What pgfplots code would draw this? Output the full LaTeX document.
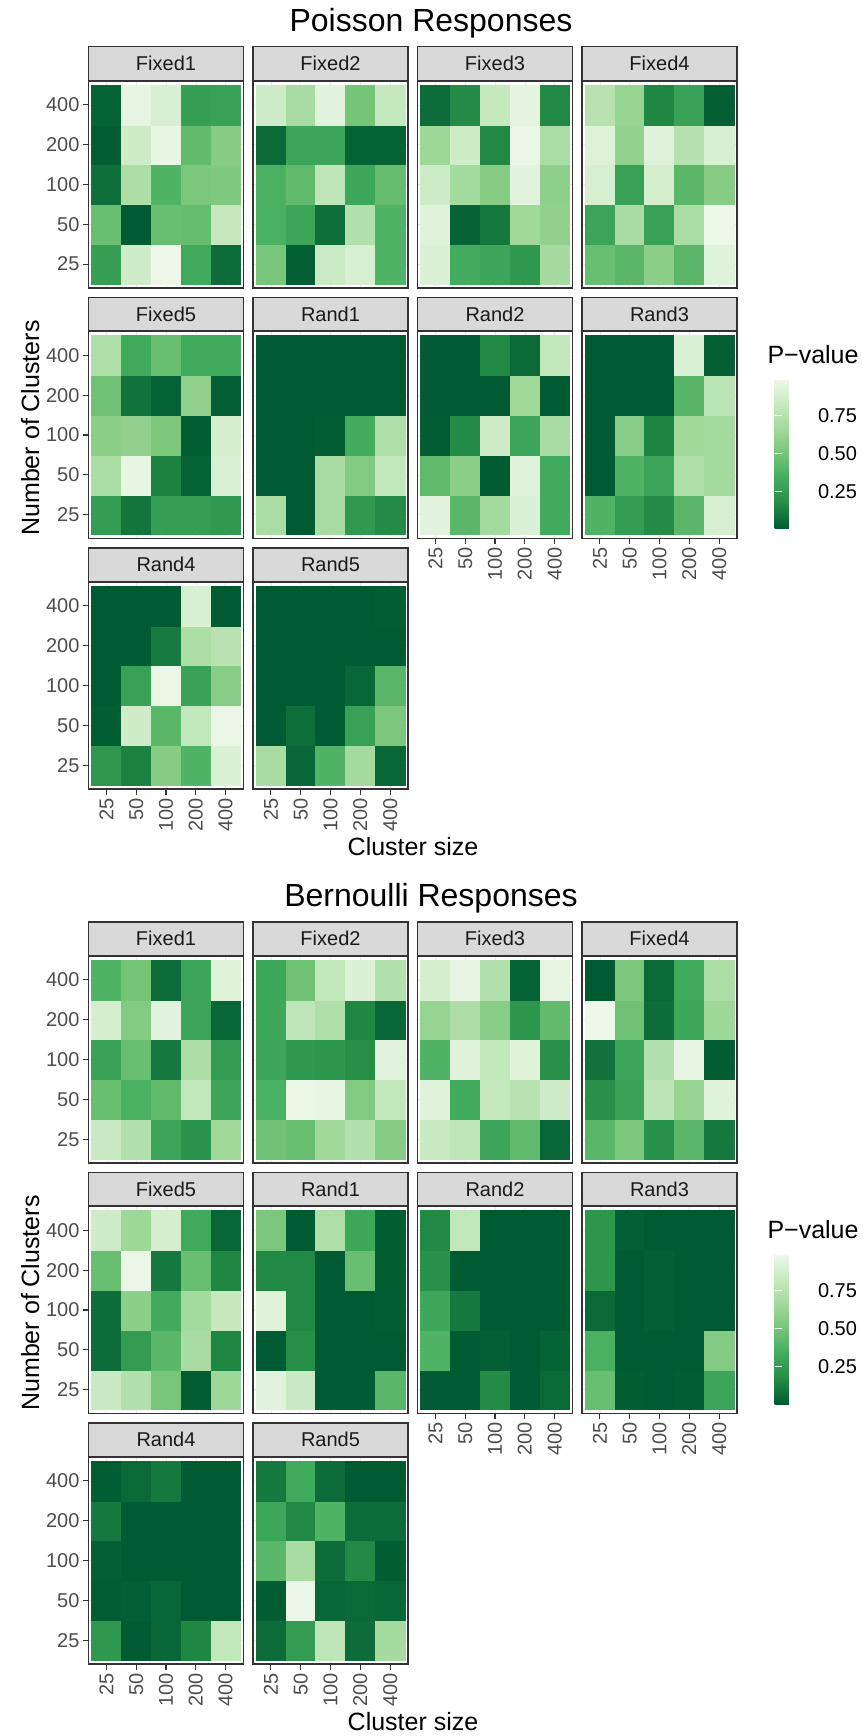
\documentclass[border=0pt]{standalone}
\usepackage{pgfplots}
\pgfplotsset{compat=1.18}
\usepackage{pgfplotstable}
\usepackage{fontspec}
\setmainfont{Liberation Sans}
\usetikzlibrary{calc}
\definecolor{gray10}{HTML}{1A1A1A}
\definecolor{gray20}{HTML}{333333}
\definecolor{gray30}{HTML}{4D4D4D}
\definecolor{gray85}{HTML}{D9D9D9}
\definecolor{gray92}{HTML}{EBEBEB}
\pgfplotsset{colormap={ggreens}{rgb255=(0,90,50) rgb255=(35,139,69) rgb255=(65,171,93) rgb255=(116,196,118) rgb255=(161,217,155) rgb255=(199,233,192) rgb255=(237,248,233)}}

% ---------------- Poisson ----------------
\pgfplotstableread[row sep=\\]{x y c\\
0 0 0.27\\ 1 0 0.86\\ 2 0 0.99\\ 3 0 0.32\\ 4 0 0.06\\
0 1 0.46\\ 1 1 0.00\\ 2 1 0.46\\ 3 1 0.45\\ 4 1 0.82\\
0 2 0.07\\ 1 2 0.71\\ 2 2 0.38\\ 3 2 0.52\\ 4 2 0.54\\
0 3 0.01\\ 1 3 0.86\\ 2 3 0.97\\ 3 3 0.44\\ 4 3 0.56\\
0 4 0.03\\ 1 4 0.96\\ 2 4 0.90\\ 3 4 0.27\\ 4 4 0.28\\
}\PFa
\pgfplotstableread[row sep=\\]{x y c\\
0 0 0.51\\ 1 0 0.02\\ 2 0 0.84\\ 3 0 0.90\\ 4 0 0.38\\
0 1 0.36\\ 1 1 0.30\\ 2 1 0.07\\ 3 1 0.74\\ 4 1 0.38\\
0 2 0.36\\ 1 2 0.43\\ 2 2 0.79\\ 3 2 0.31\\ 4 2 0.45\\
0 3 0.05\\ 1 3 0.30\\ 2 3 0.30\\ 3 3 0.03\\ 4 3 0.03\\
0 4 0.85\\ 1 4 0.69\\ 2 4 0.94\\ 3 4 0.50\\ 4 4 0.82\\
}\PFb
\pgfplotstableread[row sep=\\]{x y c\\
0 0 0.91\\ 1 0 0.34\\ 2 0 0.30\\ 3 0 0.23\\ 4 0 0.68\\
0 1 0.93\\ 1 1 0.03\\ 2 1 0.10\\ 3 1 0.66\\ 4 1 0.60\\
0 2 0.85\\ 1 2 0.67\\ 2 2 0.56\\ 3 2 0.94\\ 4 2 0.59\\
0 3 0.65\\ 1 3 0.86\\ 2 3 0.16\\ 3 3 0.98\\ 4 3 0.70\\
0 4 0.06\\ 1 4 0.17\\ 2 4 0.82\\ 3 4 0.95\\ 4 4 0.16\\
}\PFc
\pgfplotstableread[row sep=\\]{x y c\\
0 0 0.46\\ 1 0 0.41\\ 2 0 0.58\\ 3 0 0.41\\ 4 0 0.93\\
0 1 0.30\\ 1 1 0.69\\ 2 1 0.28\\ 3 1 0.70\\ 4 1 0.99\\
0 2 0.89\\ 1 2 0.28\\ 2 2 0.88\\ 3 2 0.41\\ 4 2 0.56\\
0 3 0.92\\ 1 3 0.61\\ 2 3 0.93\\ 3 3 0.75\\ 4 3 0.90\\
0 4 0.76\\ 1 4 0.62\\ 2 4 0.15\\ 3 4 0.28\\ 4 4 0.02\\
}\PFd
\pgfplotstableread[row sep=\\]{x y c\\
0 0 0.26\\ 1 0 0.09\\ 2 0 0.27\\ 3 0 0.27\\ 4 0 0.24\\
0 1 0.70\\ 1 1 0.97\\ 2 1 0.13\\ 3 1 0.03\\ 4 1 0.91\\
0 2 0.58\\ 1 2 0.60\\ 2 2 0.52\\ 3 2 0.01\\ 4 2 0.88\\
0 3 0.48\\ 1 3 0.08\\ 2 3 0.03\\ 3 3 0.60\\ 4 3 0.02\\
0 4 0.72\\ 1 4 0.32\\ 2 4 0.46\\ 3 4 0.33\\ 4 4 0.33\\
}\PFe
\pgfplotstableread[row sep=\\]{x y c\\
0 0 0.70\\ 1 0 0.00\\ 2 0 0.69\\ 3 0 0.24\\ 4 0 0.17\\
0 1 0.00\\ 1 1 0.00\\ 2 1 0.69\\ 3 1 0.55\\ 4 1 0.80\\
0 2 0.00\\ 1 2 0.00\\ 2 2 0.01\\ 3 2 0.34\\ 4 2 0.72\\
0 3 0.00\\ 1 3 0.00\\ 2 3 0.00\\ 3 3 0.00\\ 4 3 0.00\\
0 4 0.00\\ 1 4 0.00\\ 2 4 0.00\\ 3 4 0.00\\ 4 4 0.00\\
}\PRa
\pgfplotstableread[row sep=\\]{x y c\\
0 0 0.94\\ 1 0 0.41\\ 2 0 0.67\\ 3 0 0.91\\ 4 0 0.33\\
0 1 0.43\\ 1 1 0.58\\ 2 1 0.00\\ 3 1 0.93\\ 4 1 0.33\\
0 2 0.01\\ 1 2 0.17\\ 2 2 0.85\\ 3 2 0.30\\ 4 2 0.69\\
0 3 0.00\\ 1 3 0.00\\ 2 3 0.00\\ 3 3 0.66\\ 4 3 0.00\\
0 4 0.00\\ 1 4 0.00\\ 2 4 0.16\\ 3 4 0.05\\ 4 4 0.80\\
}\PRb
\pgfplotstableread[row sep=\\]{x y c\\
0 0 0.38\\ 1 0 0.26\\ 2 0 0.17\\ 3 0 0.41\\ 4 0 0.89\\
0 1 0.00\\ 1 1 0.38\\ 2 1 0.30\\ 3 1 0.72\\ 4 1 0.67\\
0 2 0.00\\ 1 2 0.57\\ 2 2 0.14\\ 3 2 0.66\\ 4 2 0.67\\
0 3 0.00\\ 1 3 0.00\\ 2 3 0.00\\ 3 3 0.40\\ 4 3 0.77\\
0 4 0.00\\ 1 4 0.00\\ 2 4 0.00\\ 3 4 0.91\\ 4 4 0.02\\
}\PRc
\pgfplotstableread[row sep=\\]{x y c\\
0 0 0.23\\ 1 0 0.13\\ 2 0 0.56\\ 3 0 0.38\\ 4 0 0.91\\
0 1 0.01\\ 1 1 0.86\\ 2 1 0.41\\ 3 1 0.80\\ 4 1 0.98\\
0 2 0.00\\ 1 2 0.28\\ 2 2 0.98\\ 3 2 0.28\\ 4 2 0.57\\
0 3 0.00\\ 1 3 0.00\\ 2 3 0.11\\ 3 3 0.71\\ 4 3 0.76\\
0 4 0.00\\ 1 4 0.00\\ 2 4 0.00\\ 3 4 0.90\\ 4 4 0.00\\
}\PRd
\pgfplotstableread[row sep=\\]{x y c\\
0 0 0.69\\ 1 0 0.04\\ 2 0 0.38\\ 3 0 0.68\\ 4 0 0.04\\
0 1 0.00\\ 1 1 0.07\\ 2 1 0.00\\ 3 1 0.28\\ 4 1 0.52\\
0 2 0.00\\ 1 2 0.00\\ 2 2 0.00\\ 3 2 0.04\\ 4 2 0.41\\
0 3 0.00\\ 1 3 0.00\\ 2 3 0.00\\ 3 3 0.00\\ 4 3 0.00\\
0 4 0.00\\ 1 4 0.00\\ 2 4 0.00\\ 3 4 0.00\\ 4 4 0.01\\
}\PRe

% ---------------- Bernoulli ----------------
\pgfplotstableread[row sep=\\]{x y c\\
0 0 0.83\\ 1 0 0.74\\ 2 0 0.30\\ 3 0 0.21\\ 4 0 0.66\\
0 1 0.46\\ 1 1 0.36\\ 2 1 0.43\\ 3 1 0.80\\ 4 1 0.30\\
0 2 0.28\\ 1 2 0.46\\ 2 2 0.10\\ 3 2 0.71\\ 4 2 0.25\\
0 3 0.88\\ 1 3 0.55\\ 2 3 0.94\\ 3 3 0.30\\ 4 3 0.04\\
0 4 0.38\\ 1 4 0.50\\ 2 4 0.06\\ 3 4 0.30\\ 4 4 0.92\\
}\BFa
\pgfplotstableread[row sep=\\]{x y c\\
0 0 0.48\\ 1 0 0.46\\ 2 0 0.66\\ 3 0 0.74\\ 4 0 0.56\\
0 1 0.36\\ 1 1 0.98\\ 2 1 0.97\\ 3 1 0.55\\ 4 1 0.80\\
0 2 0.30\\ 1 2 0.23\\ 2 2 0.22\\ 3 2 0.18\\ 4 2 0.94\\
0 3 0.31\\ 1 3 0.79\\ 2 3 0.72\\ 3 3 0.15\\ 4 3 0.04\\
0 4 0.31\\ 1 4 0.48\\ 2 4 0.80\\ 3 4 0.91\\ 4 4 0.74\\
}\BFb
\pgfplotstableread[row sep=\\]{x y c\\
0 0 0.83\\ 1 0 0.79\\ 2 0 0.30\\ 3 0 0.43\\ 4 0 0.04\\
0 1 0.93\\ 1 1 0.33\\ 2 1 0.82\\ 3 1 0.76\\ 4 1 0.86\\
0 2 0.38\\ 1 2 0.93\\ 2 2 0.80\\ 3 2 0.92\\ 4 2 0.20\\
0 3 0.62\\ 1 3 0.71\\ 2 3 0.57\\ 3 3 0.22\\ 4 3 0.44\\
0 4 0.88\\ 1 4 0.96\\ 2 4 0.74\\ 3 4 0.03\\ 4 4 0.96\\
}\BFc
\pgfplotstableread[row sep=\\]{x y c\\
0 0 0.41\\ 1 0 0.52\\ 2 0 0.20\\ 3 0 0.41\\ 4 0 0.10\\
0 1 0.20\\ 1 1 0.28\\ 2 1 0.77\\ 3 1 0.62\\ 4 1 0.93\\
0 2 0.08\\ 1 2 0.30\\ 2 2 0.74\\ 3 2 0.97\\ 4 2 0.01\\
0 3 0.99\\ 1 3 0.48\\ 2 3 0.06\\ 3 3 0.31\\ 4 3 0.65\\
0 4 0.00\\ 1 4 0.52\\ 2 4 0.05\\ 3 4 0.32\\ 4 4 0.71\\
}\BFd
\pgfplotstableread[row sep=\\]{x y c\\
0 0 0.83\\ 1 0 0.74\\ 2 0 0.51\\ 3 0 0.01\\ 4 0 0.65\\
0 1 0.06\\ 1 1 0.25\\ 2 1 0.41\\ 3 1 0.69\\ 4 1 0.15\\
0 2 0.06\\ 1 2 0.58\\ 2 2 0.33\\ 3 2 0.67\\ 4 2 0.82\\
0 3 0.46\\ 1 3 0.98\\ 2 3 0.10\\ 3 3 0.46\\ 4 3 0.15\\
0 4 0.86\\ 1 4 0.65\\ 2 4 0.88\\ 3 4 0.32\\ 4 4 0.04\\
}\BFe
\pgfplotstableread[row sep=\\]{x y c\\
0 0 0.94\\ 1 0 0.83\\ 2 0 0.00\\ 3 0 0.00\\ 4 0 0.41\\
0 1 0.00\\ 1 1 0.18\\ 2 1 0.00\\ 3 1 0.00\\ 4 1 0.00\\
0 2 0.93\\ 1 2 0.16\\ 2 2 0.00\\ 3 2 0.00\\ 4 2 0.01\\
0 3 0.16\\ 1 3 0.16\\ 2 3 0.00\\ 3 3 0.46\\ 4 3 0.01\\
0 4 0.52\\ 1 4 0.00\\ 2 4 0.72\\ 3 4 0.31\\ 4 4 0.01\\
}\BRa
\pgfplotstableread[row sep=\\]{x y c\\
0 0 0.00\\ 1 0 0.00\\ 2 0 0.17\\ 3 0 0.00\\ 4 0 0.05\\
0 1 0.38\\ 1 1 0.00\\ 2 1 0.02\\ 3 1 0.00\\ 4 1 0.03\\
0 2 0.31\\ 1 2 0.10\\ 2 2 0.00\\ 3 2 0.00\\ 4 2 0.00\\
0 3 0.20\\ 1 3 0.00\\ 2 3 0.00\\ 3 3 0.00\\ 4 3 0.00\\
0 4 0.16\\ 1 4 0.80\\ 2 4 0.00\\ 3 4 0.00\\ 4 4 0.00\\
}\BRb
\pgfplotstableread[row sep=\\]{x y c\\
0 0 0.46\\ 1 0 0.01\\ 2 0 0.00\\ 3 0 0.01\\ 4 0 0.30\\
0 1 0.36\\ 1 1 0.00\\ 2 1 0.00\\ 3 1 0.00\\ 4 1 0.55\\
0 2 0.05\\ 1 2 0.00\\ 2 2 0.02\\ 3 2 0.00\\ 4 2 0.00\\
0 3 0.22\\ 1 3 0.00\\ 2 3 0.02\\ 3 3 0.00\\ 4 3 0.00\\
0 4 0.22\\ 1 4 0.02\\ 2 4 0.00\\ 3 4 0.00\\ 4 4 0.00\\
}\BRc
\pgfplotstableread[row sep=\\]{x y c\\
0 0 0.23\\ 1 0 0.00\\ 2 0 0.04\\ 3 0 0.15\\ 4 0 0.80\\
0 1 0.01\\ 1 1 0.02\\ 2 1 0.04\\ 3 1 0.00\\ 4 1 0.00\\
0 2 0.02\\ 1 2 0.00\\ 2 2 0.00\\ 3 2 0.00\\ 4 2 0.00\\
0 3 0.10\\ 1 3 0.00\\ 2 3 0.00\\ 3 3 0.00\\ 4 3 0.00\\
0 4 0.01\\ 1 4 0.05\\ 2 4 0.10\\ 3 4 0.00\\ 4 4 0.00\\
}\BRd
\pgfplotstableread[row sep=\\]{x y c\\
0 0 0.06\\ 1 0 0.25\\ 2 0 0.79\\ 3 0 0.06\\ 4 0 0.68\\
0 1 0.01\\ 1 1 0.98\\ 2 1 0.04\\ 3 1 0.05\\ 4 1 0.04\\
0 2 0.41\\ 1 2 0.69\\ 2 2 0.06\\ 3 2 0.16\\ 4 2 0.01\\
0 3 0.31\\ 1 3 0.16\\ 2 3 0.38\\ 3 3 0.06\\ 4 3 0.06\\
0 4 0.10\\ 1 4 0.32\\ 2 4 0.06\\ 3 4 0.00\\ 4 4 0.00\\
}\BRe

\pgfplotsset{
  hm/.style={
    scale only axis, width=155pt, height=207pt,
    anchor=north west,
    xmin=-0.6, xmax=4.6, ymin=-0.6, ymax=4.6,
    xtick={0,1,2,3,4}, ytick={0,1,2,3,4},
    xticklabels={}, yticklabels={},
    xmajorticks=false, ymajorticks=false,
    xtick pos=bottom, ytick pos=left,
    grid=major, major grid style={draw=gray92, line width=0.6pt},
    axis line style={draw=gray20, line width=1.1pt},
    tick style={draw=gray20, line width=1.1pt},
    major tick length=5.5pt, tick align=outside,
    ticklabel style={font=\fontsize{20}{24}\selectfont, text=gray30},
    xticklabel style={rotate=90, anchor=east},
    yticklabel style={anchor=east},
    colormap name=ggreens, point meta min=0, point meta max=0.99,
    every axis title shift=0pt,
    title style={at={(0.5,1)}, anchor=south, yshift=0pt, fill=gray85, draw=gray20,
      line width=1.1pt, minimum width=155pt, minimum height=33.5pt, inner sep=0pt,
      text=gray10, font=\fontsize{20}{24}\selectfont},
  },
  showx/.style={xmajorticks=true, xticklabels={25,50,100,200,400}},
  showy/.style={ymajorticks=true, yticklabels={25,50,100,200,400}},
  cbar/.style={colorbar, colorbar style={
      at={($(parent axis.north east)+(29pt,-47.8pt)$)}, anchor=north west,
      scale only axis, width=30.7pt, height=149.7pt,
      ytick={0.25,0.5,0.75}, yticklabels={0.25,0.50,0.75},
      ytick pos=both, yticklabel pos=right,
      tick align=inside, major tick length=7.3pt,
      ytick style={draw=white, line width=1pt},
      axis line style={draw=none},
      yticklabel style={font=\fontsize{20}{24}\selectfont, text=black, anchor=west, inner sep=0pt, xshift=12.6pt},
  }},
}

\newcommand{\hpanel}[5]{%
  \begin{axis}[hm, at={(#1pt,#2pt)}, title={#3}, #4]
    \addplot[matrix plot*, mesh/cols=5, point meta=explicit] table[x=x, y=y, meta=c] {#5};
  \end{axis}}

\begin{document}
\begin{tikzpicture}
\path[use as bounding box] (0pt,0pt) rectangle (862pt,-1736pt);

% ===== Poisson block =====
\node[anchor=base, font=\fontsize{32}{38}\selectfont] at (431pt,-31.5pt) {Poisson Responses};
\hpanel{88.5}{-81}{Fixed1}{showy}{\PFa}
\hpanel{253}{-81}{Fixed2}{}{\PFb}
\hpanel{417.5}{-81}{Fixed3}{}{\PFc}
\hpanel{582}{-81}{Fixed4}{}{\PFd}
\hpanel{88.5}{-331.5}{Fixed5}{showy}{\PFe}
\hpanel{253}{-331.5}{Rand1}{}{\PRa}
\hpanel{417.5}{-331.5}{Rand2}{showx}{\PRb}
\hpanel{582}{-331.5}{Rand3}{showx, cbar}{\PRc}
\hpanel{88.5}{-582}{Rand4}{showx, showy}{\PRd}
\hpanel{253}{-582}{Rand5}{showx}{\PRe}
\node[anchor=base, font=\fontsize{25}{30}\selectfont] at (413pt,-855.5pt) {Cluster size};
\node[anchor=base, rotate=90, font=\fontsize{25}{30}\selectfont] at (39pt,-428pt) {Number of Clusters};
\node[anchor=base west, inner sep=0pt, font=\fontsize{25}{30}\selectfont] at (767.3pt,-363.3pt) {P−value};

% ===== Bernoulli block =====
\node[anchor=base, font=\fontsize{32}{38}\selectfont] at (431pt,-906.5pt) {Bernoulli Responses};
\hpanel{88.5}{-956}{Fixed1}{showy}{\BFa}
\hpanel{253}{-956}{Fixed2}{}{\BFb}
\hpanel{417.5}{-956}{Fixed3}{}{\BFc}
\hpanel{582}{-956}{Fixed4}{}{\BFd}
\hpanel{88.5}{-1206.5}{Fixed5}{showy}{\BFe}
\hpanel{253}{-1206.5}{Rand1}{}{\BRa}
\hpanel{417.5}{-1206.5}{Rand2}{showx}{\BRb}
\hpanel{582}{-1206.5}{Rand3}{showx, cbar}{\BRc}
\hpanel{88.5}{-1457}{Rand4}{showx, showy}{\BRd}
\hpanel{253}{-1457}{Rand5}{showx}{\BRe}
\node[anchor=base, font=\fontsize{25}{30}\selectfont] at (413pt,-1730.5pt) {Cluster size};
\node[anchor=base, rotate=90, font=\fontsize{25}{30}\selectfont] at (39pt,-1303pt) {Number of Clusters};
\node[anchor=base west, inner sep=0pt, font=\fontsize{25}{30}\selectfont] at (767.3pt,-1238.3pt) {P−value};
\end{tikzpicture}
\end{document}
